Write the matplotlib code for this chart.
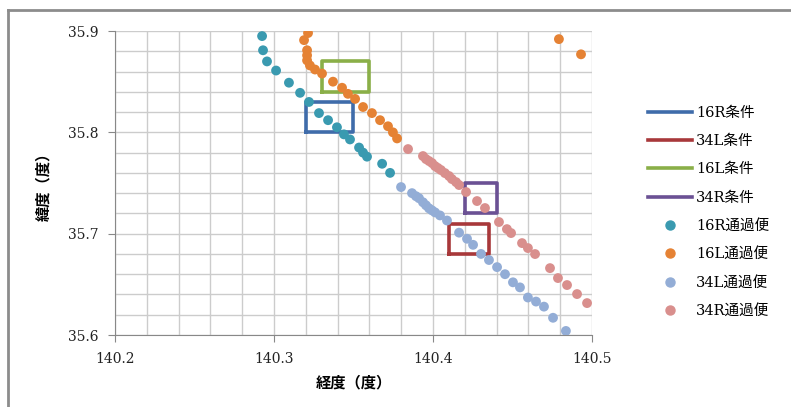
import matplotlib.pyplot as plt
from matplotlib.lines import Line2D
import numpy as np

plt.rcParams['font.family'] = ['DejaVu Serif', 'Noto Sans CJK JP']

# condition boxes: (lon_min, lon_max, lat_min, lat_max)
box_names = ['16R条件', '34L条件', '16L条件', '34R条件']
box_lon = [(140.32, 140.35), (140.41, 140.435), (140.33, 140.36), (140.42, 140.44)]
box_lat = [(35.80, 35.83), (35.68, 35.71), (35.84, 35.87), (35.72, 35.75)]
box_colors = ['#3F6CAA', '#A8383A', '#8AAF48', '#6B5194']

# passing flights
r16_lon = [140.2925, 140.2931, 140.2956, 140.3013, 140.3094, 140.3164, 140.3220, 140.3283,
           140.3340, 140.3396, 140.3440, 140.3478, 140.3535, 140.3560, 140.3585, 140.3680, 140.3730]
r16_lat = [35.895, 35.881, 35.870, 35.861, 35.849, 35.839, 35.830, 35.819,
           35.812, 35.805, 35.798, 35.793, 35.785, 35.780, 35.776, 35.769, 35.760]

l16_lon = [140.3214, 140.3189, 140.3208, 140.3208, 140.3208, 140.3226, 140.3258, 140.3302,
           140.3371, 140.3428, 140.3465, 140.3510, 140.3560, 140.3616, 140.3667, 140.3717,
           140.3748, 140.3774, 140.4792, 140.4931]
l16_lat = [35.898, 35.891, 35.881, 35.876, 35.871, 35.866, 35.862, 35.858,
           35.850, 35.844, 35.838, 35.833, 35.825, 35.819, 35.812, 35.806,
           35.800, 35.794, 35.892, 35.877]

l34_lon = [140.3799, 140.3868, 140.3893, 140.3912, 140.3937, 140.3956, 140.3975, 140.3994,
           140.4013, 140.4044, 140.4088, 140.4164, 140.4214, 140.4252, 140.4302, 140.4352,
           140.4403, 140.4453, 140.4503, 140.4547, 140.4597, 140.4648, 140.4698, 140.4755, 140.4836]
l34_lat = [35.746, 35.740, 35.737, 35.735, 35.731, 35.728, 35.725, 35.723,
           35.721, 35.718, 35.713, 35.701, 35.695, 35.689, 35.680, 35.674,
           35.667, 35.660, 35.652, 35.647, 35.637, 35.633, 35.628, 35.617, 35.604]

r34_lon = [140.3843, 140.3937, 140.3956, 140.3975, 140.3994, 140.4013, 140.4031, 140.4050,
           140.4075, 140.4101, 140.4119, 140.4145, 140.4164, 140.4208, 140.4277, 140.4327,
           140.4415, 140.4465, 140.4491, 140.4560, 140.4597, 140.4642, 140.4736, 140.4786,
           140.4843, 140.4906, 140.4969]
r34_lat = [35.7835, 35.7766, 35.7736, 35.7717, 35.7697, 35.7667, 35.7648, 35.7628,
           35.7598, 35.7569, 35.7539, 35.7509, 35.7480, 35.7411, 35.7322, 35.7253,
           35.7115, 35.7045, 35.7006, 35.6907, 35.6858, 35.6799, 35.6660, 35.6562,
           35.6493, 35.6404, 35.6315]

pts = [('16R通過便', r16_lon, r16_lat, '#3A9AB0'),
       ('16L通過便', l16_lon, l16_lat, '#E58234'),
       ('34L通過便', l34_lon, l34_lat, '#93ADD6'),
       ('34R通過便', r34_lon, r34_lat, '#D98F8D')]

fig = plt.figure(figsize=(7.91, 4.07), dpi=100)
ax = fig.add_axes([0.1454, 0.1769, 0.6030, 0.7469])

handles = []
for name, (x0, x1), (y0, y1), c in zip(box_names, box_lon, box_lat, box_colors):
    ax.plot([x0, x1, x1, x0, x0], [y0, y0, y1, y1, y0], color=c, lw=2.6, zorder=3)
    handles.append(Line2D([], [], color=c, lw=2.6, label=name))

for name, xs, ys, c in pts:
    ax.scatter(xs, ys, s=50, color=c, edgecolors='none', zorder=4)
    handles.append(Line2D([], [], ls='none', marker='o', ms=6.5, color=c, label=name))

ax.set_xlim(140.2, 140.5)
ax.set_ylim(35.6, 35.9)
ax.set_xticks([140.2, 140.3, 140.4, 140.5])
ax.set_yticks([35.6, 35.7, 35.8, 35.9])
ax.set_xticks(np.arange(140.2, 140.5001, 0.02), minor=True)
ax.set_yticks(np.arange(35.6, 35.9001, 0.02), minor=True)
ax.grid(True, which='both', color='#CCCCCC', lw=1)
ax.set_axisbelow(True)
ax.tick_params(which='minor', length=0)
ax.tick_params(which='major', length=5, color='#888888', labelsize=10, labelcolor='#222222')
ax.tick_params(axis='y', pad=7)
ax.tick_params(axis='x', pad=7)
for s in ['top', 'right']:
    ax.spines[s].set_visible(False)
for s in ['left', 'bottom']:
    ax.spines[s].set_color('#888888')

ax.set_xlabel('経度（度）', fontsize=11, fontweight='bold', labelpad=7)
ax.set_ylabel('緯度（度）', fontsize=11, fontweight='bold', labelpad=12)

ax.legend(handles=handles, loc='center left', bbox_to_anchor=(1.09, 0.405), frameon=False,
          fontsize=10.5, handlelength=3.0, labelspacing=0.98, handletextpad=0.3)

# outer chart frame
fig.add_artist(Line2D([8 / 791, 1], [1 - 10 / 407, 1 - 10 / 407], color='#8C8C8C', lw=2))
fig.add_artist(Line2D([8 / 791, 8 / 791], [0, 1 - 10 / 407], color='#8C8C8C', lw=2))

fig.savefig('out.png', dpi=100)
